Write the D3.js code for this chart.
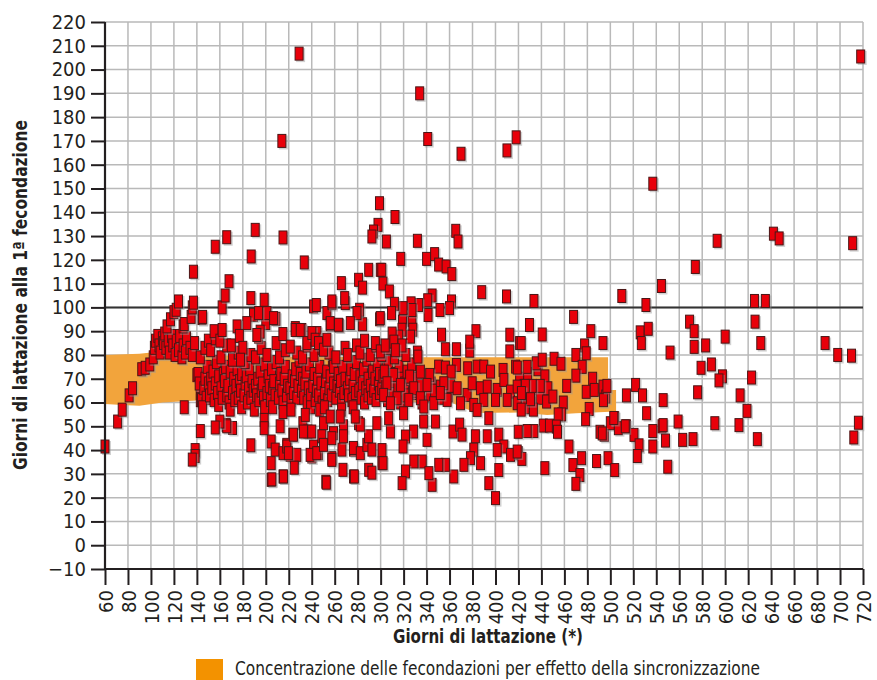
<!DOCTYPE html>
<html>
<head>
<meta charset="utf-8">
<script src="https://cdn.jsdelivr.net/npm/d3@7"></script>
<style>
  body { margin: 0; background: #fff; }
  text { font-family: "Liberation Sans Narrow", "DejaVu Sans Condensed", sans-serif; fill: #231f20; }
</style>
</head>
<body>
<div id="chart"></div>
<script>
// ---- data: [giorni di lattazione, giorni alla 1a fecondazione] ----
const xTicks = d3.range(60, 721, 20);
const yTicks = d3.range(-10, 221, 10);
const refValue = 100;

// synchronisation band: upper edge left->right, then lower edge right->left
const bandTop = [[60,80],[90,80.5],[100,81],[106,82.5],[115,81],[140,80],[200,79.5],[300,79],[400,79],[498,79],[498,65.3],[505,65.3]];
const bandBottom = [[505,56.2],[470,55.5],[445,54.8],[420,55.8],[385,55.6],[370,58],[362,60],[300,60.3],[200,60.6],[140,60.8],[110,60],[90,58.6],[75,59],[60,59.4]];

const earlyPoints = [
  [60,41.5],[71,52],[75,57],[81,63],[84,66],[92,74],[95,74.6],[99,76],[102,79],
  [103,83],[104,86],[106,88],[107,84],[108,81],[110,87],[111,85],[112,89],[113,83],[115,86],[116,81],[118,88],[119,84],[121,80],[122,86],[124,82],[125,88],[127,79],[128,84],[130,81],[131,87],[134,83],[136,80],[138,85],
  [114,92],[117,95],[120,98],[122,99],[124,102.5],[128,92],[129,93],[135,96],[136,100],[137,102],[137,115],[144.5,95.5],[145,96],
  [140,71.5],[143,64],[143,67],
  [129,58],[143,48],[138.5,40],[138.5,37.5],[136,36]
];

const upperPoints = [
  [156,125.5],[166,129.5],[168,111],[162,100],[164.6,105],[190.8,132.6],[187.3,121.4],[215,129.4],[214,170],[229,206.7],[233.5,118.9],[244,101],
  [299,143.8],[297.7,134.7],[293.8,131.9],[292.4,129.8],[289.6,115.8],[299.7,115.8],[280.8,111.6],[284.3,108.3],[265.8,110.2],[268.7,103.9],[257.6,102.5],
  [312.5,138],[305,127.7],[332,128],[365.4,132.2],[367.4,127.7],[317.5,120.4],[340,120.4],[347,122.4],[350.5,118],[357,117.2],[362,114],[301,115.8],[302,110],[307.6,106.7],[388,106.4],[409.6,104.6],
  [344.8,105],[361.7,102.5],[360,99.7],[351.7,98.9],[341,103],[341.3,96.8],[333,101],[326.5,101.7],[327.3,98.9],[319.5,99.7],[312,101.5],[309.5,97.6],[299.7,95.5],
  [334,190],[341,170.8],[370,164.6],[410,166],[418,171.5],
  [433.5,102.7],[510,104.8],[537,152],[544.5,109],[531,101],[574,117],[593,128],[642,131],[647,129],[711,127],[625.5,102.7],[635,102.7],[718,205.5]
];

const upperMidPoints = [
  [187,103.9],[198.6,103.2],[189.3,96.9],[196.5,97.6],[200,93.4],[208.8,95.2],[193.7,87.7],[195.1,89.8],
  [241.6,100.4],[253.2,97.6],[256.1,92.9],[264,92.4],[281.7,99],[284.3,92.9],[299.1,95],
  [214.9,88.8],[225.7,91.3],[231.4,90.5],[244.5,89.2],[295.4,85],[299.7,81.5],
  [183.5,93.4],[192.2,88.4],[201,97.6],[206.8,95.5],[193.7,97.6],
  [221.3,83.5],[225.6,90.5],[230,90.5],[235.8,85],[240.1,89.2],[243,86.4],[245.9,85],[250.2,82.2],[253.2,86.4],[256.1,93.4],[263.3,92.7],[257.6,101.8],[269.2,101.8],[279.4,97.6],[273.6,93.4],
  [319,94],[327.3,94.8],[328,90.6],[326,87.7],[318.6,90.6],[315.7,87.7],[310,89],[304,84],[311.5,85.6],[318.6,84],[312.8,82],
  [353,88.5],[383,90],[356.4,82.4],[366,82.4],[377.6,81.8],[377.6,85.6],[412.5,88.5],[412.5,81.5],[421,85],[332.5,79.3],
  [422.4,85],[429.6,92.6],[440.7,88.6],[468,96],[483,90],[477.6,84],[479,80.7],[493.6,85],[470,80],
  [155,90],[160,86],[162,90.5],[170,84],[175,92],[177,88],[180,83],[178,78]
];

const corePoints = [
  [141,72],[142,68],[143,61],[144,61],[146,66],[147,70],[148,62],[149,75],[145,58],[150,68],[143,79],[147,83],[150,86],
  [151,63],[152,70],[153,66],[154,73],[155,61],[156,68],[157,77],[158,64],[159,71],[152,82],[156,87],[159,59],
  [161,66],[162,62],[163,72],[164,69],[165,75],[166,63],[167,67],[168,60],[169,73],[161,79],[166,84],[169,57],
  [171,64],[172,70],[173,61],[174,67],[175,74],[176,62],[177,69],[178,65],[179,72],[171,78],[176,81],[179,58],
  [181,63],[182,68],[183,71],[184,60],[185,66],[186,74],[187,62],[188,69],[189,65],[182,77],[187,80],[190,57],
  [191,67],[192,63],[193,70],[194,61],[195,73],[196,65],[197,68],[198,62],[199,76],[191,79],[196,83],[199,58],
  [201,64],[202,71],[203,67],[204,61],[205,74],[206,66],[207,69],[208,63],[209,77],[201,80],[206,58],[209,85],
  [211,62],[212,68],[213,72],[214,65],[215,60],[216,70],[217,75],[218,63],[219,67],[212,79],[217,82],[215,56],
  [221,66],[222,61],[223,71],[224,64],[225,69],[226,74],[227,62],[228,67],[229,78],[222,57],[227,81],[230,72],
  [231,65],[232,70],[233,62],[234,68],[235,73],[236,60],[237,66],[238,76],[239,63],[232,79],[236,84],[239,58],
  [241,67],[242,72],[243,61],[244,65],[245,70],[246,63],[247,75],[248,68],[249,60],[242,80],[247,57],[249,83],
  [251,64],[252,69],[253,73],[254,61],[255,66],[256,71],[257,63],[258,78],[259,68],[251,58],[255,81],[259,75],
  [261,62],[262,67],[263,72],[264,65],[265,69],[266,61],[267,75],[268,64],[269,70],[261,79],[266,57],[269,83],
  [271,66],[272,63],[273,70],[274,74],[275,61],[276,67],[277,72],[278,64],[279,77],[271,80],[276,58],[279,84],
  [281,65],[282,71],[283,62],[284,68],[285,74],[286,60],[287,66],[288,78],[289,63],[282,81],[286,86],[289,70],
  [291,67],[292,62],[293,73],[294,65],[295,70],[296,61],[297,76],[298,68],[299,64],[291,80],[296,84],[299,72],
  [301,66],[302,71],[304,68],[305,74],[306,61],[307,77],[308,65],[309,70],[301,80],[306,83],
  [311,64],[312,69],[313,72],[315,67],[316,75],[317,60],[318,70],[312,79],[317,82],
  [321,68],[322,63],[323,73],[326,70],[327,76],[328,64],[322,80],
  [331,65],[332,70],[335,67],[336,60],[332,81],
  [343,63],[344,68],[347,65],
  [353,62],[359,63],
  [361,67],
  [421,70],[423,63],[425,67],[428,72],[431,60],[434,66],[437,74],[439,62],[426,58],[433,57],
  [350.5,75.1],[356.4,74.7],[366,75.8],[361.4,73],[375.8,74.4],[384,75.1],[389.8,75.1],[395.7,73],[406.6,73.7],[417.5,75.1],
  [334.6,73],[342.7,71.6],[325.2,70.9],[311.3,71.6],[303.2,73],[305.5,68.1],[317.2,67.4],[328.8,66],[340.4,67.4],[352,66.7],[355,68.1],[366.6,66],[375.3,63.2],[379.7,68.1],[386.9,66],[392.8,66.7],[401.5,65.3],[407.3,69.5],[413.1,64.6],[418.9,66.7],
  [302.6,63.2],[314.3,61.8],[324.5,61.1],[334.6,61.8],[346.2,59.7],[357.9,61.1],[369.5,59.7],[381.1,59],[389.8,61.1],[400,61.1],[410.2,61.1],[418.9,59.7],[308.5,59.7],[337.6,58.3],[384,56.9],[394.2,53.4],[352,64]
];

const midLatePoints = [
  [451,78.4],[457,76.3],[435.5,76.5],[427.5,75],[419,74.7],[440.7,78],[475.5,75],[470,71.3],[484.6,70],[462,67],[479,64.5],[486,65.3],[493.6,66.7],[496,62.5],[459,60],[481.6,57.3],[478.5,53],
  [443,71],[445.6,66],[439,67],[432,67],[426,67],[422.6,64],[430.5,61.4],[444.5,60.4],[450,62.5],[457.6,55],[454.6,55],[422.4,57],
  [441.6,50.3],[447,50.3],[453,49.9],[454,47.7],[433.4,48],[427.6,48],[419.8,47.7],[464,41.5],
  [491,47.7],[494.7,46.4],[500,51.3],[503.8,53.4],[507,49.2],[514,50],[520.6,46.4],[525,42],[523.5,37.5],
  [420,38.7],[423,36.3],[443,32.4],[467.4,33.7],[473.5,29.5],[475,36.6],[470,25.8],[488,35.4],[498,36.6],[503.8,31.6]
];

const latePoints = [
  [526,89.5],[527,85],[533,91],[569,94],[573,90],[626,94],[600,87.7],[583,84],[573,83.4],[631,85],[552,81],[687,85],[698,80],[710,79.7],
  [579,74.6],[588,76],[597.6,71],[594.6,69.3],[623,70.5],[494,61],[497,67],[514,63],[522,67.4],[528,63],[546,61],[576,64.3],[613,63],
  [531.6,55.5],[619,56.5],[493,47],[503,53.5],[513,50],[537,48],[545,50],[546,50.5],[548,44],[537,41.5],[559,52],[563,44.3],[572,44.6],
  [591,51.3],[612,50.5],[628,44.6],[550,33],[716,51.5],[712,45.3]
];

const lowerPoints = [
  [165.5,50.6],[171,49.3],[187,42],[198.6,52.7],[198.6,49.2],[204.7,43.6],[208.2,40.2],[204.7,34.5],[204.7,27.5],[215,38.7],[215,28.9],
  [223.6,46.4],[225,37.3],[221.3,38],[218.3,42.2],[232.3,51.3],[234.4,54.8],[236.6,47.8],[241.6,41.5],[245.9,38.7],[240.1,37.3],[252.3,26.7],
  [257.6,36.6],[266.3,40.2],[267.7,50],[250.3,51.3],[256.1,54.1],[259,47.1],[276.4,40.2],[276.4,28.9],[280.8,51.3],
  [212.5,50],[218.3,41.5],[224.1,46.5],[227,38],[219.7,38.7],[232.8,47.8],[240,47.8],[248.8,45.8],[238.6,38],[244.4,38.7],[250.2,42.2],[257.5,45],[257.5,35.9],
  [267.6,45.8],[276.3,40.9],[282.3,38.7],[288,42.2],[289.5,45.8],[292.4,40.2],[296.7,51.3],[301.1,34.5],[282.3,50.7],[277.9,54.1],[264.8,54.1],
  [205.3,27.7],[215.4,28.9],[224.8,32.6],[252.7,26.3],[267.2,31.7],[277.1,28.9],[289.6,31.7],[292.4,30.5],
  [320,55.5],[337.5,52],[347.7,52],[340.4,44.3],[328.7,47.8],[321.6,45.7],[319.5,41.5],[308.5,47.8],[307,53.4],[301.2,40],[302.1,34.5],
  [363,47.8],[368.8,50.7],[370.9,46.5],[382.5,45.8],[381.1,40.2],[392.8,45.8],[402.9,46.5],[407.3,41.5],[387,34.5],[378.2,36.6],[372.5,33.8],
  [363.7,28.9],[356.4,33.8],[350.6,33.8],[344.8,25.4],[336.2,35.2],[328.9,35.2],[342,30.3],[321.6,31],[318.7,26.1],[413.1,38],[418.9,39.4],
  [401.5,40],[402.9,31.6],[394.2,26.1],[400,19.8],[166,50],[160,52],[156,49.5]
];

const points = [].concat(earlyPoints, corePoints, upperMidPoints, upperPoints, midLatePoints, latePoints, lowerPoints);

// ---- layout ----
const W = 877, H = 680;
const margin = {top: 22, right: 14, bottom: 111, left: 105};
const x = d3.scaleLinear().domain([60, 720]).range([margin.left, W - margin.right]);
const y = d3.scaleLinear().domain([-10, 220]).range([H - margin.bottom, margin.top]);

const svg = d3.select("#chart").append("svg")
  .attr("width", W).attr("height", H);

// grid
const grid = svg.append("g").attr("stroke", "#b9b9b9").attr("stroke-width", 1.5);
grid.selectAll(".gx").data(xTicks.slice(1)).join("line")
  .attr("x1", d => x(d)).attr("x2", d => x(d))
  .attr("y1", y(220)).attr("y2", y(-10));
grid.selectAll(".gy").data(yTicks.slice(1)).join("line")
  .attr("x1", x(60)).attr("x2", x(720))
  .attr("y1", d => y(d)).attr("y2", d => y(d));

// synchronisation band
const band = bandTop.concat(bandBottom);
svg.append("path")
  .attr("d", d3.line().x(d => x(d[0])).y(d => y(d[1])).curve(d3.curveLinearClosed)(band))
  .attr("fill", "#f2a43c");

// reference line at 100
svg.append("line")
  .attr("x1", x(60)).attr("x2", x(720))
  .attr("y1", y(refValue)).attr("y2", y(refValue))
  .attr("stroke", "#333").attr("stroke-width", 2);

// markers
const mw = 8, mh = 13;
const marks = svg.append("g").selectAll("g").data(points).join("g")
  .attr("transform", d => `translate(${x(d[0])},${y(d[1])})`);
marks.append("rect")
  .attr("x", -mw / 2 + 1).attr("y", -mh / 2 + 1)
  .attr("width", mw + 1).attr("height", mh + 1)
  .attr("fill", "#9a9a9a").attr("opacity", 0.45);
marks.append("rect")
  .attr("x", -mw / 2).attr("y", -mh / 2)
  .attr("width", mw).attr("height", mh)
  .attr("fill", "#e8000a").attr("stroke", "#4a1616").attr("stroke-width", 1);

// axes
const yAxis = d3.axisLeft(y).tickValues(yTicks).tickSize(14).tickPadding(5).tickFormat(d3.format("d"));
const xAxis = d3.axisBottom(x).tickValues(xTicks).tickSize(16).tickFormat(d3.format("d"));

const yG = svg.append("g").attr("transform", `translate(${margin.left},0)`).call(yAxis);
const xG = svg.append("g").attr("transform", `translate(0,${y(-10)})`).call(xAxis);

[yG, xG].forEach(g => {
  g.selectAll("path, line").attr("stroke", "#231f20").attr("stroke-width", 2);
  g.select(".domain").attr("stroke-width", 2.2);
  g.selectAll("text").attr("font-size", 20).attr("fill", "#231f20")
    .style("font-family", '"Liberation Sans Narrow", "DejaVu Sans Condensed", sans-serif');
});
yG.select(".domain").attr("d", `M0,${y(220)}V${y(-10)}`);
xG.select(".domain").attr("d", `M${x(60)},0H${x(720)}`);

xG.selectAll("text")
  .attr("transform", "rotate(-90)")
  .attr("x", -21).attr("y", 0).attr("dy", "0.36em")
  .attr("text-anchor", "end");

// titles
svg.append("text")
  .attr("x", 393).attr("y", 643)
  .attr("font-size", 19).attr("font-weight", "bold")
  .attr("textLength", 190).attr("lengthAdjust", "spacingAndGlyphs")
  .text("Giorni di lattazione (*)");

svg.append("text")
  .attr("transform", `translate(27,470) rotate(-90)`)
  .attr("font-size", 19).attr("font-weight", "bold")
  .attr("textLength", 350).attr("lengthAdjust", "spacingAndGlyphs")
  .text("Giorni di lattazione alla 1ª fecondazione");

// legend
svg.append("rect")
  .attr("x", 196).attr("y", 659).attr("width", 27).attr("height", 22)
  .attr("fill", "#f39200");
svg.append("text")
  .attr("x", 235).attr("y", 675)
  .attr("font-size", 19)
  .attr("textLength", 525).attr("lengthAdjust", "spacingAndGlyphs")
  .text("Concentrazione delle fecondazioni per effetto della sincronizzazione");
</script>
</body>
</html>
